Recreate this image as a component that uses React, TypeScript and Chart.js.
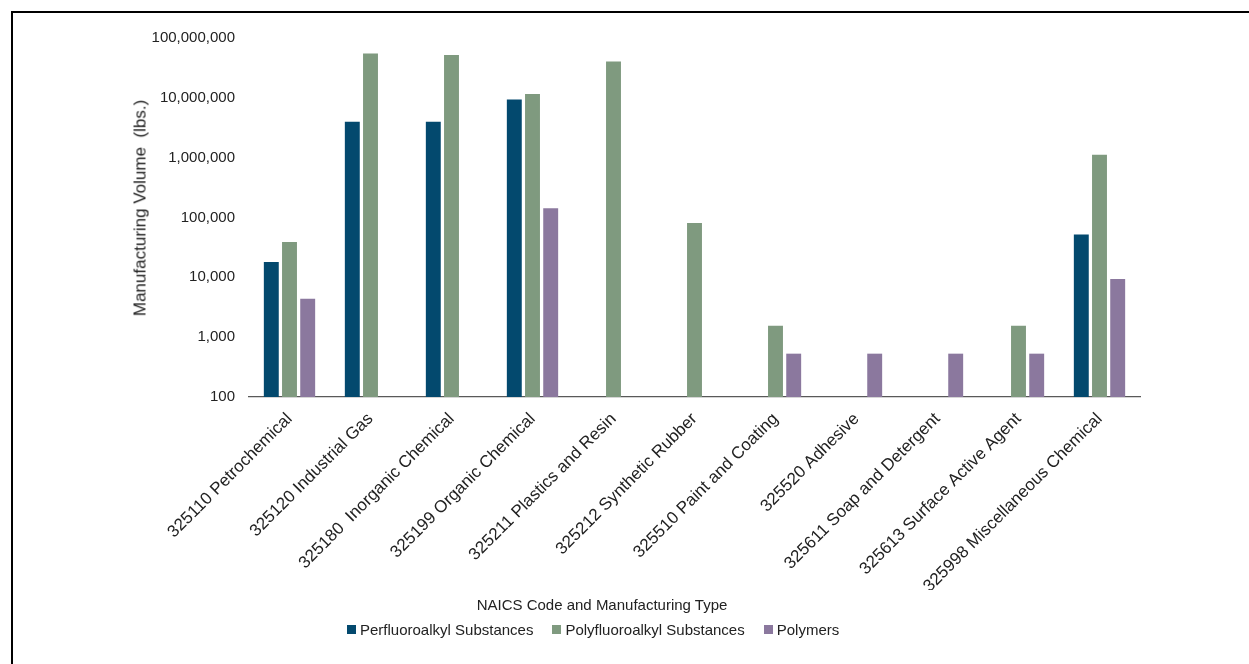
import React, { useEffect, useRef } from "react";
import { Chart, registerables } from "chart.js";

Chart.register(...registerables);

// NAICS categories on the x axis
const categories: string[] = [
  "325110 Petrochemical",
  "325120 Industrial Gas",
  "325180  Inorganic Chemical",
  "325199 Organic Chemical",
  "325211 Plastics and Resin",
  "325212 Synthetic Rubber",
  "325510 Paint and Coating",
  "325520 Adhesive",
  "325611 Soap and Detergent",
  "325613 Surface Active Agent",
  "325998 Miscellaneous Chemical",
];

// Manufacturing volume (lbs.) per category; null = not reported
const perfluoroalkyl: (number | null)[] = [
  18000, 4000000, 4000000, 9400000, null, null, null, null, null, null, 52000,
];
const polyfluoroalkyl: (number | null)[] = [
  39000, 55000000, 52000000, 11600000, 40500000, 81000, 1550, null, null, 1550, 1120000,
];
const polymers: (number | null)[] = [
  4400, null, null, 143000, null, null, 530, 530, 530, 530, 9400,
];

const seriesNames: string[] = [
  "Perfluoroalkyl Substances",
  "Polyfluoroalkyl Substances",
  "Polymers",
];
const seriesColors: string[] = ["#03496E", "#7F9A7F", "#8B789E"];

// Log-scale tick values shown on the y axis
const yTicks: number[] = [100, 1000, 10000, 100000, 1000000, 10000000, 100000000];

const yTitle = "Manufacturing Volume  (lbs.)";
const xTitle = "NAICS Code and Manufacturing Type";

const FONT = '"Liberation Sans", Arial, sans-serif';
const TEXT = "#222222";

export default function App() {
  const canvasRef = useRef<HTMLCanvasElement | null>(null);

  useEffect(() => {
    const canvas = canvasRef.current;
    if (!canvas) return;
    const seriesData = [perfluoroalkyl, polyfluoroalkyl, polymers];
    const chart = new Chart(canvas, {
      type: "bar",
      data: {
        labels: categories,
        datasets: seriesData.map((d, i) => ({
          label: seriesNames[i],
          data: d,
          backgroundColor: seriesColors[i],
          borderWidth: 0,
          categoryPercentage: 0.674,
          barPercentage: 0.82,
        })),
      },
      options: {
        animation: false,
        responsive: false,
        maintainAspectRatio: false,
        layout: { padding: { left: 130, right: 109, top: 38, bottom: 74 } },
        plugins: {
          legend: { display: false },
          tooltip: { enabled: false },
        },
        scales: {
          x: {
            grid: { display: false, drawTicks: false },
            border: { display: true, color: "#595959", width: 1.3 },
            ticks: {
              autoSkip: false,
              minRotation: 45,
              maxRotation: 45,
              padding: 12,
              color: TEXT,
              font: { family: FONT, size: 17 },
            },
            afterFit: (s: any) => {
              s.height = 193;
            },
          },
          y: {
            type: "logarithmic",
            min: 100,
            max: 100000000,
            grid: { display: false, drawTicks: false },
            border: { display: false },
            afterBuildTicks: (s: any) => {
              s.ticks = yTicks.map((v) => ({ value: v }));
            },
            afterFit: (s: any) => {
              s.width = 119;
            },
            ticks: {
              padding: 14,
              color: TEXT,
              font: { family: FONT, size: 15 },
              callback: (v: any) => Number(v).toLocaleString("en-US"),
            },
          },
        },
      },
    });
    return () => chart.destroy();
  }, []);

  return (
    <div
      style={{
        position: "fixed",
        left: 0,
        top: 0,
        width: 1249,
        height: 664,
        background: "#ffffff",
        overflow: "hidden",
        fontFamily: FONT,
      }}
    >
      <div
        style={{
          position: "absolute",
          left: 11,
          top: 11,
          right: 0,
          bottom: 0,
          borderLeft: "2px solid #000",
          borderTop: "2px solid #000",
        }}
      />
      <canvas
        ref={canvasRef}
        width={1249}
        height={664}
        style={{ position: "absolute", left: 0, top: 0, width: 1249, height: 664 }}
      />
      {/* y-axis title, rotated to read bottom to top */}
      <div
        style={{
          position: "absolute",
          left: 140,
          top: 208,
          transform: "translate(-50%, -50%) rotate(-90deg)",
          whiteSpace: "pre",
          fontSize: 17,
          lineHeight: "17px",
          color: TEXT,
        }}
      >
        {yTitle}
      </div>
      <div
        style={{
          position: "absolute",
          left: 602,
          top: 597,
          transform: "translateX(-50%)",
          whiteSpace: "nowrap",
          fontSize: 15,
          lineHeight: "15px",
          color: TEXT,
        }}
      >
        {xTitle}
      </div>
      <div
        style={{
          position: "absolute",
          left: 347,
          top: 622,
          display: "flex",
          alignItems: "center",
          whiteSpace: "nowrap",
          fontSize: 15,
          lineHeight: "15px",
          color: TEXT,
        }}
      >
        {seriesNames.map((name, i) => (
          <div
            key={name}
            style={{ display: "flex", alignItems: "center", marginRight: 19 }}
          >
            <span
              style={{
                display: "inline-block",
                width: 9,
                height: 9,
                background: seriesColors[i],
                marginRight: 4,
              }}
            />
            <span>{name}</span>
          </div>
        ))}
      </div>
    </div>
  );
}
